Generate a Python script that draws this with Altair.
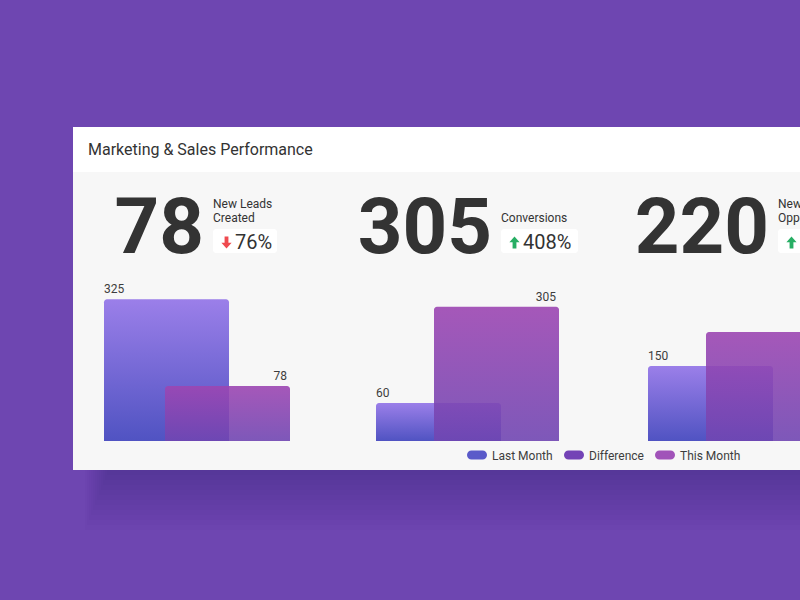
import altair as alt
import pandas as pd

# ---------------- data ----------------
title_text = "Marketing & Sales Performance"
kpi_values = [78, 305, 220]
kpi_label_lines = [["New Leads", "Created"], ["Conversions"], ["New", "Opportunities"]]
kpi_changes = ["76%", "408%", "47%"]
kpi_up = [False, True, True]
series_names = ["Last Month", "This Month"]
last_month = [325, 60, 150]
this_month = [78, 305, 220]
legend_names = ["Last Month", "Difference", "This Month"]
legend_colors = ["#5a5ac9", "#7443b6", "#a153b9"]

# ---------------- layout / style ----------------
W, H = 800, 600
BG = "#6e46b1"
FONT = "Roboto"
TXT = "#333333"
CARD_L, CARD_T, HEAD_B, CARD_B = 73, 127, 172, 470
BASE = 441
GROUP_STEP = 272
FIRST_BAR = 104
BAR_W = 125
THIS_OFFSET = [61, 58, 58]
# pixel position of (min value top, max value top) for each mini chart
Y_RANGES = [(386, 299.3), (403, 306.7), (366, 332)]
LABEL_X = [213, 501, 778]
BADGE_W = [64, 77, 64]
LEGEND_X = [467, 564, 655]

grad_last = alt.LinearGradient(
    gradient="linear", x1=0, x2=0, y1=0, y2=1,
    stops=[alt.GradientStop(color="#9b7fe9", offset=0),
           alt.GradientStop(color="#5053c2", offset=1)])
grad_this = alt.LinearGradient(
    gradient="linear", x1=0, x2=0, y1=0, y2=1,
    stops=[alt.GradientStop(color="#9c46b2", offset=0),
           alt.GradientStop(color="#7046b2", offset=1)])

one = pd.DataFrame({"k": [0]})

# ---------------- card ----------------
shadow_df = pd.DataFrame({"k": list(range(12))})
shadow_df["sx"] = CARD_L + 34 - 2 * shadow_df["k"]
shadow_df["sy"] = 300
shadow_df["sy2"] = CARD_B + 5 * (shadow_df["k"] + 1)
shadow = alt.Chart(shadow_df).mark_rect(color="#1a0638", opacity=0.017).encode(
    x=alt.X("sx:Q", scale=None, axis=None), x2=alt.value(W),
    y=alt.Y("sy:Q", scale=None, axis=None), y2="sy2:Q")

card_head = alt.Chart(one).mark_rect(color="#ffffff").encode(
    x=alt.value(CARD_L), x2=alt.value(W), y=alt.value(CARD_T), y2=alt.value(HEAD_B))
card_body = alt.Chart(one).mark_rect(color="#f7f7f7").encode(
    x=alt.value(CARD_L), x2=alt.value(W), y=alt.value(HEAD_B), y2=alt.value(CARD_B))

title = alt.Chart(pd.DataFrame({"t": [title_text]})).mark_text(
    font=FONT, fontSize=16, color=TXT, align="left", baseline="alphabetic").encode(
    x=alt.value(88), y=alt.value(154.5), text="t:N")

# ---------------- KPIs ----------------
kpi_df = pd.DataFrame({"value": kpi_values, "change": kpi_changes, "up": kpi_up})
kpi_df["lx"] = LABEL_X
kpi_df["nx"] = kpi_df["lx"] - 9
kpi_df["bx2"] = kpi_df["lx"] + BADGE_W
kpi_df["ax"] = kpi_df["lx"] + 13.5
kpi_df["px"] = kpi_df["lx"] + 22

big = alt.Chart(kpi_df).mark_text(
    font=FONT, fontSize=78, fontWeight="bold", color=TXT, align="right",
    baseline="alphabetic").encode(
    x=alt.X("nx:Q", scale=None, axis=None), y=alt.value(252.5), text="value:Q")

rows = []
for i, lines in enumerate(kpi_label_lines):
    n = len(lines)
    for j, s in enumerate(lines):
        rows.append({"text": s, "lx": LABEL_X[i], "ly": 222 - 14.5 * (n - 1 - j)})
lab_df = pd.DataFrame(rows)
labels = alt.Chart(lab_df).mark_text(
    font=FONT, fontSize=12, color=TXT, align="left", baseline="alphabetic").encode(
    x=alt.X("lx:Q", scale=None, axis=None), y=alt.Y("ly:Q", scale=None, axis=None),
    text="text:N")

badge = alt.Chart(kpi_df).mark_rect(color="#ffffff", cornerRadius=3).encode(
    x=alt.X("lx:Q", scale=None, axis=None), x2="bx2:Q",
    y=alt.value(229), y2=alt.value(253))

down_path = "M-0.32,-1L0.32,-1L0.32,0.05L0.85,0.05L0,1L-0.85,0.05L-0.32,0.05Z"
up_path = "M-0.32,1L0.32,1L0.32,-0.05L0.85,-0.05L0,-1L-0.85,-0.05L-0.32,-0.05Z"
arrow_down = alt.Chart(kpi_df).transform_filter("!datum.up").mark_point(
    shape=down_path, filled=True, size=144, color="#ef4a4f", opacity=1, strokeWidth=0).encode(
    x=alt.X("ax:Q", scale=None, axis=None), y=alt.value(242.5))
arrow_up = alt.Chart(kpi_df).transform_filter("datum.up").mark_point(
    shape=up_path, filled=True, size=144, color="#27ae64", opacity=1, strokeWidth=0).encode(
    x=alt.X("ax:Q", scale=None, axis=None), y=alt.value(242.5))

pct = alt.Chart(kpi_df).mark_text(
    font=FONT, fontSize=20, color=TXT, align="left", baseline="alphabetic").encode(
    x=alt.X("px:Q", scale=None, axis=None), y=alt.value(249), text="change:N")

# ---------------- bars ----------------
xs = alt.Scale(domain=[0, 3], range=[FIRST_BAR, FIRST_BAR + 3 * GROUP_STEP], nice=False, zero=False)


def group_chart(i):
    vals = [last_month[i], this_month[i]]
    df = pd.DataFrame({"series": series_names, "value": vals,
                       "x0": [i, i + THIS_OFFSET[i] / GROUP_STEP]})
    df["x1"] = df["x0"] + BAR_W / GROUP_STEP
    ys = alt.Scale(domain=[min(vals), max(vals)], range=list(Y_RANGES[i]),
                   zero=False, nice=False)
    base = alt.Chart(df)
    x0 = alt.X("x0:Q", scale=xs, axis=None)
    x1 = alt.X("x1:Q", scale=xs, axis=None)
    y = alt.Y("value:Q", scale=ys, axis=None)
    bar_last = base.transform_filter(alt.datum.series == "Last Month").mark_bar(
        color=grad_last, cornerRadiusTopLeft=3, cornerRadiusTopRight=3, clip=True).encode(
        x=x0, x2="x1:Q", y=y, y2=alt.value(BASE))
    bar_this = base.transform_filter(alt.datum.series == "This Month").mark_bar(
        color=grad_this, opacity=0.9, cornerRadiusTopLeft=3, cornerRadiusTopRight=3,
        clip=True).encode(x=x0, x2="x1:Q", y=y, y2=alt.value(BASE))
    t_last = base.transform_filter(alt.datum.series == "Last Month").mark_text(
        font=FONT, fontSize=12, color="#3d3d3d", align="left", baseline="alphabetic",
        dy=-6).encode(x=x0, y=y, text="value:Q")
    t_this = base.transform_filter(alt.datum.series == "This Month").mark_text(
        font=FONT, fontSize=12, color="#3d3d3d", align="right", baseline="alphabetic",
        dy=-6, dx=-3).encode(x=x1, y=y, text="value:Q")
    return alt.layer(bar_last, bar_this, t_last, t_this)


groups = [group_chart(i) for i in range(3)]

# ---------------- legend ----------------
leg_df = pd.DataFrame({"name": legend_names})
leg_df["lx"] = LEGEND_X
leg_df["lx2"] = leg_df["lx"] + 20
leg_df["tx"] = leg_df["lx"] + 25
pills = alt.Chart(leg_df).mark_rect(cornerRadius=4.5).encode(
    x=alt.X("lx:Q", scale=None, axis=None), x2="lx2:Q",
    y=alt.value(450.5), y2=alt.value(459.5),
    color=alt.Color("name:N", scale=alt.Scale(domain=legend_names, range=legend_colors),
                    legend=None))
leg_txt = alt.Chart(leg_df).mark_text(
    font=FONT, fontSize=12, color="#3d3d3d", align="left", baseline="alphabetic").encode(
    x=alt.X("tx:Q", scale=None, axis=None), y=alt.value(459.5), text="name:N")

chart = alt.layer(
    shadow, card_body, card_head, title,
    big, labels, badge, arrow_down, arrow_up, pct,
    *groups,
    pills, leg_txt,
).resolve_scale(y="independent").properties(
    width=W, height=H, padding=0, autosize="none", background=BG
).configure_view(stroke=None)

chart.save("out.html", embed_options={"renderer": "svg", "actions": False})
